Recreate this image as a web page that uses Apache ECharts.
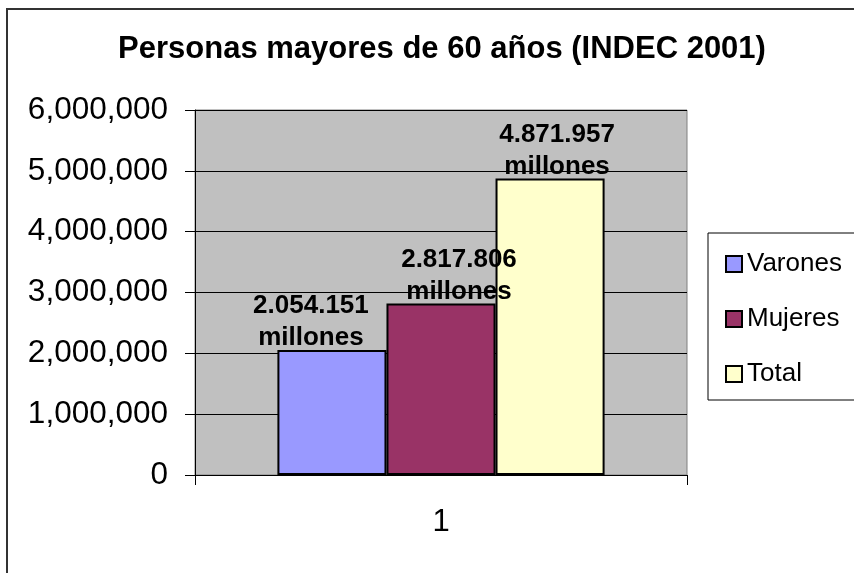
<!DOCTYPE html>
<html>
<head>
<meta charset="utf-8">
<script src="https://cdn.jsdelivr.net/npm/echarts@6/dist/echarts.min.js"></script>
<style>
  html, body { margin: 0; padding: 0; background: #fff; }
  #chart { width: 854px; height: 573px; }
</style>
</head>
<body>
<div id="chart"></div>
<script>
const titleText = 'Personas mayores de 60 años (INDEC 2001)'
const categories = ['1']
const seriesNames = ['Varones', 'Mujeres', 'Total']
const values = [2054151, 2817806, 4871957]
const colors = ['#9999FF', '#993366', '#FFFFCC']
const yMin = 0
const yMax = 6000000
const yStep = 1000000

const font = 'Liberation Sans, Arial, sans-serif'
// Excel puts the labels a bit off-centre
const labelShift = [-21, 18, 7]

const withDots = v => String(v).replace(/\B(?=(\d{3})+(?!\d))/g, '.')
const withCommas = v => String(v).replace(/\B(?=(\d{3})+(?!\d))/g, ',')

const chart = echarts.init(document.getElementById('chart'))

const option = {
  animation: false,
  textStyle: { fontFamily: font },
  title: {
    text: titleText,
    left: 437,
    textAlign: 'center',
    top: 29,
    textStyle: { fontSize: 31, fontWeight: 'bold', color: '#000', fontFamily: font }
  },
  graphic: [{
    type: 'rect',
    shape: { x: 7, y: 9, width: 900, height: 700 },
    style: { fill: 'none', stroke: '#333', lineWidth: 2 },
    silent: true
  }],
  legend: {
    orient: 'vertical',
    left: 708,
    top: 233,
    padding: [18, 20, 13, 17],
    itemGap: 29,
    itemWidth: 16,
    itemHeight: 16,
    borderColor: '#000',
    borderWidth: 1,
    icon: 'rect',
    textStyle: { fontSize: 26, color: '#000', fontFamily: font },
    data: seriesNames
  },
  grid: {
    left: 195,
    right: 167,
    top: 110,
    bottom: 98,
    show: true,
    backgroundColor: '#C0C0C0',
    borderColor: '#808080',
    borderWidth: 1
  },
  xAxis: {
    type: 'category',
    data: categories,
    axisLine: { lineStyle: { color: '#000', width: 1 } },
    axisTick: { show: true, length: 10, lineStyle: { color: '#000' } },
    axisLabel: { fontSize: 31, color: '#000', margin: 32, fontFamily: font }
  },
  yAxis: {
    type: 'value',
    min: yMin,
    max: yMax,
    interval: yStep,
    axisLine: { show: true, lineStyle: { color: '#000', width: 1 } },
    axisTick: { show: true, length: 10, lineStyle: { color: '#000' } },
    splitLine: { show: true, lineStyle: { color: '#000', width: 1 } },
    axisLabel: {
      fontSize: 31.5,
      color: '#000',
      margin: 27,
      fontFamily: font,
      formatter: v => withCommas(v)
    }
  },
  series: seriesNames.map((name, i) => ({
    name: name,
    type: 'bar',
    barGap: '0%',
    barCategoryGap: '33.5%',
    data: [values[i]],
    itemStyle: { color: colors[i], borderColor: '#000', borderWidth: 2 },
    label: {
      show: true,
      position: 'top',
      distance: -4,
      offset: [labelShift[i], 0],
      fontSize: 26,
      fontWeight: 'bold',
      lineHeight: 32,
      color: '#000',
      fontFamily: font,
      formatter: p => withDots(p.value) + '\nmillones'
    }
  }))
}

chart.setOption(option)

window.addEventListener('resize', () => chart.resize())
</script>
</body>
</html>
